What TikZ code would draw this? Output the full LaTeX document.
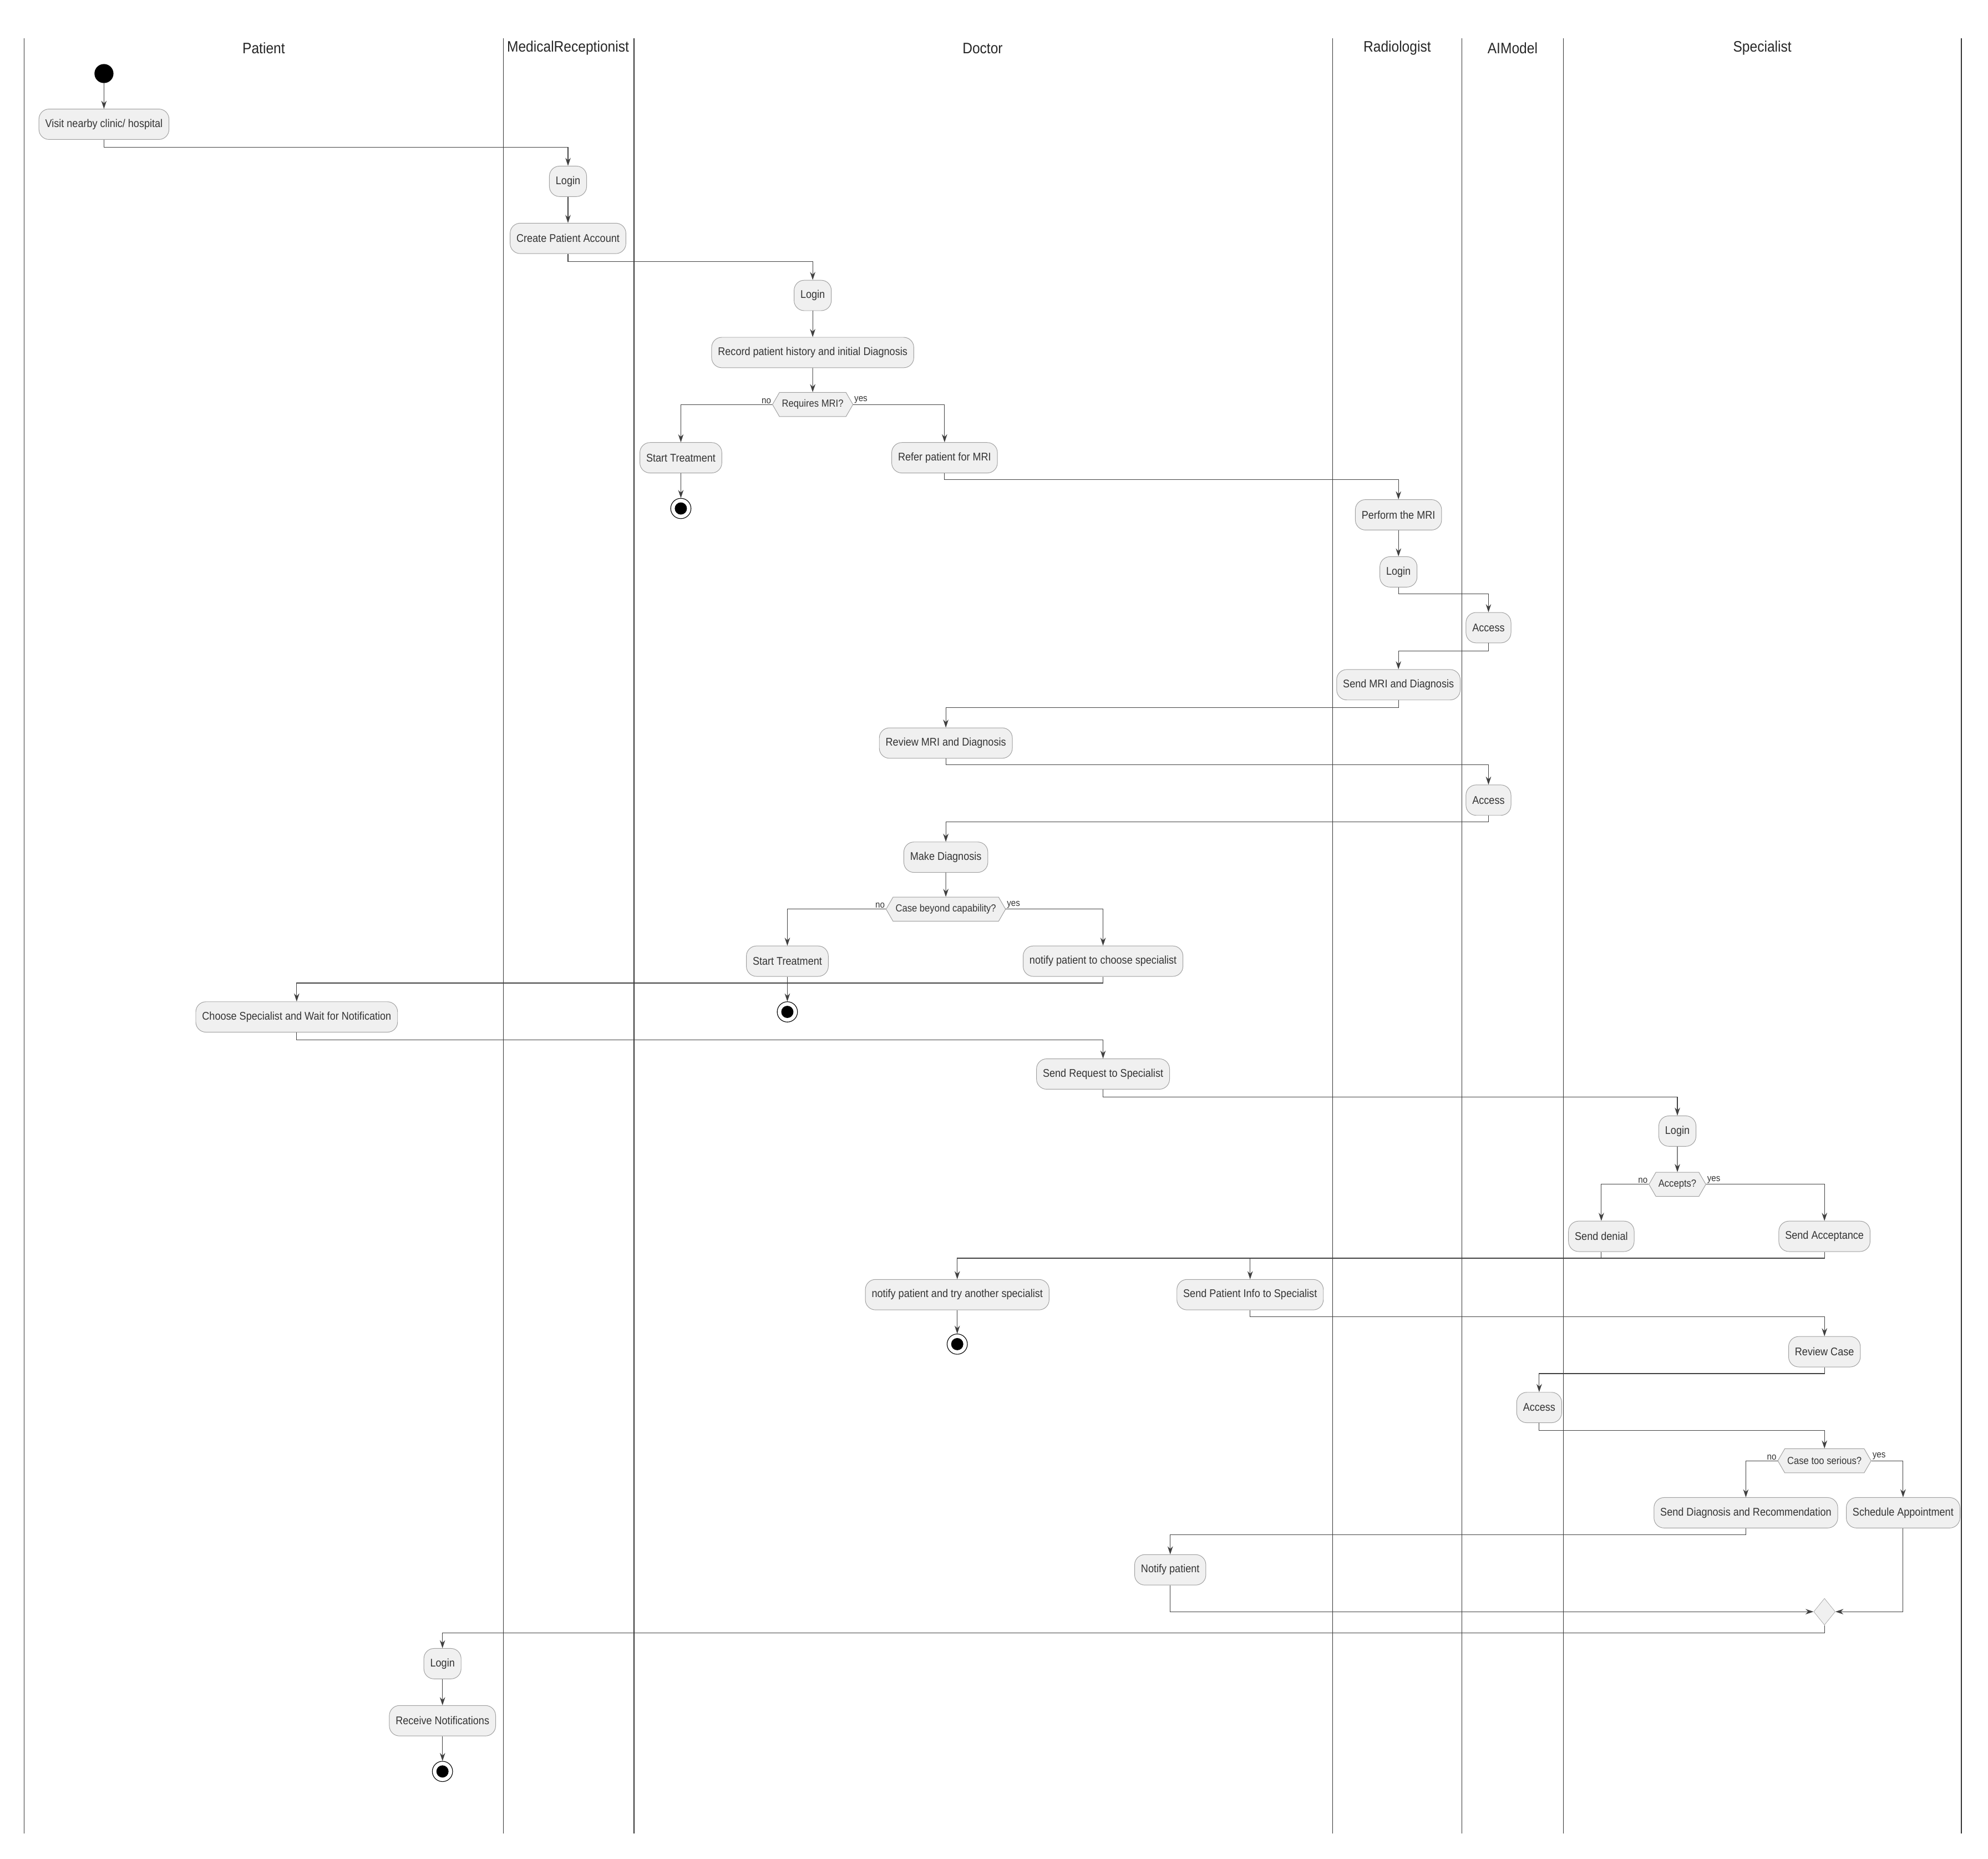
\documentclass[tikz,border=0pt]{standalone}
\usepackage{fontspec}
\setmainfont[FakeStretch=0.9]{Liberation Sans}
\usetikzlibrary{shapes.symbols,shapes.geometric,arrows.meta}
\begin{document}
\begin{tikzpicture}[x=0.05cm,y=-0.05cm,
  act/.style={draw=gray!75,fill=gray!12,rounded corners=0.4cm,minimum height=1.2cm,inner xsep=0.25cm,font=\fontsize{12.5}{14}\selectfont,text=black!80,line width=0.6pt},
  dec/.style={draw=gray!75,fill=gray!12,shape=signal,signal to=east and west,signal pointer angle=120,minimum height=0.95cm,inner xsep=0.1cm,font=\fontsize{11.5}{13}\selectfont,text=black!80,line width=0.6pt},
  lbl/.style={font=\fontsize{10.5}{12}\selectfont,text=black!80,inner sep=1pt},
  arr/.style={-{Stealth[length=9pt,width=6pt]},draw=black!75,line width=0.7pt},
  lane/.style={draw=black!80,line width=0.8pt},
  hdr/.style={font=\fontsize{17}{20}\selectfont,text=black!85},
  startn/.style={circle,fill=black,minimum size=0.75cm,inner sep=0pt},
  endn/.style={circle,draw=black,line width=0.7pt,minimum size=0.8cm,inner sep=0pt,path picture={\fill[black] (path picture bounding box.center) circle (0.24cm);}},
  merge/.style={diamond,draw=gray!75,fill=gray!12,minimum width=0.85cm,minimum height=1.05cm,inner sep=0pt}]
\useasboundingbox (0,0) rectangle (1568,1466);
\foreach \x in {19,397,500,1051,1153,1233,1547} \draw[lane] (\x,30) -- (\x,1446);
\node[hdr] (hP) at (208,38) {Patient};
\node[hdr] (hM) at (448,38) {MedicalReceptionist};
\node[hdr] (hD) at (775,38) {Doctor};
\node[hdr] (hR) at (1102,38) {Radiologist};
\node[hdr] (hA) at (1193,38) {AIModel};
\node[hdr] (hS) at (1390,38) {Specialist};

\node[startn] (st) at (82,58) {};
\node[act] (v1) at (82,98) {Visit nearby clinic/ hospital};
\node[act] (r1) at (448,143) {Login};
\node[act] (r2) at (448,188) {Create Patient Account};
\node[act] (d1) at (641,233) {Login};
\node[act] (d2) at (641,278) {Record patient history and initial Diagnosis};
\node[dec] (q1) at (641,319) {Requires MRI?};
\node[act] (d3) at (537,361) {Start Treatment};
\node[endn] (e1) at (537,401) {};
\node[act] (d4) at (745,361) {Refer patient for MRI};
\node[act] (ra1) at (1103,406) {Perform the MRI};
\node[act] (ra2) at (1103,451) {Login};
\node[act] (ai1) at (1174,495) {Access};
\node[act] (ra3) at (1103,540) {Send MRI and Diagnosis};
\node[act] (d5) at (746,586) {Review MRI and Diagnosis};
\node[act] (ai2) at (1174,631) {Access};
\node[act] (d6) at (746,676) {Make Diagnosis};
\node[dec] (q2) at (746,717) {Case beyond capability?};
\node[act] (d7) at (621,758) {Start Treatment};
\node[endn] (e2) at (621,798) {};
\node[act] (d8) at (870,758) {notify patient to choose specialist};
\node[act] (p2) at (234,802) {Choose Specialist and Wait for Notification};
\node[act] (d9) at (870,847) {Send Request to Specialist};
\node[act] (s1) at (1323,892) {Login};
\node[dec] (q3) at (1323,934) {Accepts?};
\node[act] (s2) at (1263,975) {Send denial};
\node[act] (s3) at (1439,975) {Send Acceptance};
\node[act] (d10) at (755,1021) {notify patient and try another specialist};
\node[endn] (e3) at (755,1060) {};
\node[act] (d11) at (986,1021) {Send Patient Info to Specialist};
\node[act] (s4) at (1439,1066) {Review Case};
\node[act] (ai3) at (1214,1110) {Access};
\node[dec] (q4) at (1439,1152) {Case too serious?};
\node[act] (s5) at (1377,1193) {Send Diagnosis and Recommendation};
\node[act] (s6) at (1501,1193) {Schedule Appointment};
\node[act] (d12) at (923,1238) {Notify patient};
\node[merge] (m) at (1439,1271) {};
\node[act] (p3) at (349,1312) {Login};
\node[act] (p4) at (349,1357) {Receive Notifications};
\node[endn] (e4) at (349,1397) {};

\draw[arr] (st) -- (v1);
\draw[arr] (v1.south) -- ++(0,6) -| (r1.north);
\draw[arr] (r1) -- (r2);
\draw[arr] (r2.south) -- ++(0,6) -| (d1.north);
\draw[arr] (d1) -- (d2);
\draw[arr] (d2) -- (q1);
\draw[arr] (q1.west) -| (d3.north);
\draw[arr] (q1.east) -| (d4.north);
\node[lbl,anchor=south east] (n1) at (q1.west) {no};
\node[lbl,anchor=south west] (y1) at (q1.east) {yes};
\draw[arr] (d3) -- (e1);
\draw[arr] (d4.south) -- ++(0,5) -| (ra1.north);
\draw[arr] (ra1) -- (ra2);
\draw[arr] (ra2.south) -- ++(0,5) -| (ai1.north);
\draw[arr] (ai1.south) -- ++(0,6) -| (ra3.north);
\draw[arr] (ra3.south) -- ++(0,6) -| (d5.north);
\draw[arr] (d5.south) -- ++(0,5) -| (ai2.north);
\draw[arr] (ai2.south) -- ++(0,5) -| (d6.north);
\draw[arr] (d6) -- (q2);
\draw[arr] (q2.west) -| (d7.north);
\draw[arr] (q2.east) -| (d8.north);
\node[lbl,anchor=south east] (n2) at (q2.west) {no};
\node[lbl,anchor=south west] (y2) at (q2.east) {yes};
\draw[arr] (d7) -- (e2);
\draw[arr] (d8.south) -- ++(0,5) -| (p2.north);
\draw[arr] (p2.south) -- ++(0,6) -| (d9.north);
\draw[arr] (d9.south) -- ++(0,6) -| (s1.north);
\draw[arr] (s1) -- (q3);
\draw[arr] (q3.west) -| (s2.north);
\draw[arr] (q3.east) -| (s3.north);
\node[lbl,anchor=south east] (n3) at (q3.west) {no};
\node[lbl,anchor=south west] (y3) at (q3.east) {yes};
\draw[arr] (s2.south) -- ++(0,5) -| (d10.north);
\draw[arr] (s3.south) -- ++(0,5) -| (d11.north);
\draw[arr] (d10) -- (e3);
\draw[arr] (d11.south) -- ++(0,5) -| (s4.north);
\draw[arr] (s4.south) -- ++(0,5) -| (ai3.north);
\draw[arr] (ai3.south) -- ++(0,6) -| (q4.north);
\draw[arr] (q4.west) -| (s5.north);
\draw[arr] (q4.east) -| (s6.north);
\node[lbl,anchor=south east] (n4) at (q4.west) {no};
\node[lbl,anchor=south west] (y4) at (q4.east) {yes};
\draw[arr] (s5.south) -- ++(0,5) -| (d12.north);
\draw[arr] (d12.south) |- (m.west);
\draw[arr] (s6.south) |- (m.east);
\draw[arr] (m.south) -- ++(0,6) -| (p3.north);
\draw[arr] (p3) -- (p4);
\draw[arr] (p4) -- (e4);
\end{tikzpicture}
\end{document}
